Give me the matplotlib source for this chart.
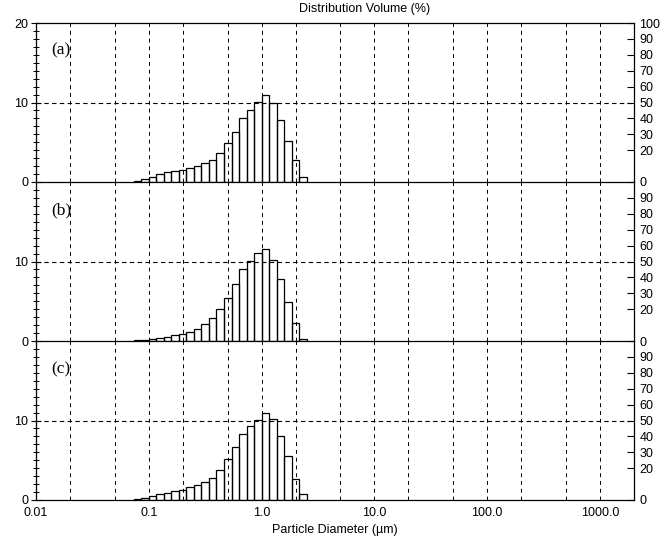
import numpy as np
import matplotlib
matplotlib.use('Agg')
import matplotlib.pyplot as plt
from matplotlib.ticker import FixedLocator, NullFormatter

# size classes: 15 per decade, first edge 10^(-17/15)
bin_k = np.arange(-17, 7)
bin_edges = 10.0 ** (bin_k / 15.0)

vol_a = [0.17, 0.35, 0.6, 0.95, 1.3, 1.43, 1.56, 1.73, 2.03, 2.34, 2.8, 3.7,
         4.9, 6.3, 8.0, 9.1, 10.1, 11.0, 10.0, 7.8, 5.2, 2.8, 0.6]
vol_b = [0.08, 0.15, 0.26, 0.4, 0.5, 0.7, 0.9, 1.17, 1.56, 2.1, 2.9, 4.0,
         5.45, 7.2, 9.0, 10.1, 11.1, 11.6, 10.2, 7.8, 4.9, 2.3, 0.26]
vol_c = [0.12, 0.3, 0.5, 0.7, 0.9, 1.1, 1.3, 1.6, 1.9, 2.3, 2.8, 3.8,
         5.1, 6.7, 8.3, 9.3, 10.1, 11.0, 10.2, 8.1, 5.5, 2.6, 0.7]
panel_labels = ['(a)', '(b)', '(c)']

grid_x = [0.02, 0.05, 0.1, 0.2, 0.5, 1, 2, 5, 10, 20, 50, 100, 200, 500, 1000]
xtick_vals = [0.01, 0.1, 1, 10, 100, 1000]
xtick_text = ['0.01', '0.1', '1.0', '10.0', '100.0', '1000.0']

plt.rcParams['font.family'] = ['Liberation Sans', 'DejaVu Sans']
plt.rcParams['font.size'] = 9

fig = plt.figure(figsize=(6.69, 5.40), dpi=100)
left, right = 36 / 669, 634 / 669
top, bottom = 1 - 23 / 540, 1 - 500 / 540
h = (top - bottom) / 3

widths = np.diff(bin_edges)
lefts = bin_edges[:-1]

for i, vals in enumerate([vol_a, vol_b, vol_c]):
    ax = fig.add_axes([left, top - (i + 1) * h, right - left, h])
    ax.set_facecolor('none')
    ax.set_xscale('log')
    ax.set_xlim(0.01, 2000)
    ax.set_ylim(0, 20)

    for gx in grid_x:
        ax.axvline(gx, color='black', lw=0.7, ls=(0, (4, 4)), zorder=3)
    ax.axhline(10, color='black', lw=0.8, ls=(0, (4, 3)), zorder=3)

    ax.bar(lefts, vals, width=widths, align='edge', facecolor='none',
           edgecolor='black', lw=0.9, zorder=2)

    for sp in ax.spines.values():
        sp.set_linewidth(0.9)
        sp.set_zorder(5)
    if i > 0:
        ax.spines['top'].set_visible(False)

    # left axis
    if i == 0:
        ax.set_yticks([0, 10, 20])
    else:
        ax.set_yticks([0, 10])
    ax.yaxis.set_minor_locator(FixedLocator(np.arange(1, 20)))
    ax.tick_params(axis='y', which='major', direction='inout', length=7,
                   width=0.8, labelsize=9, pad=2)
    ax.tick_params(axis='y', which='minor', direction='inout', length=5,
                   width=0.7)

    # x axis
    ax.xaxis.set_minor_formatter(NullFormatter())
    ax.tick_params(axis='x', which='both', length=0)
    if i == 2:
        ax.set_xticks(xtick_vals)
        ax.set_xticklabels(xtick_text)
        ax.tick_params(axis='x', labelsize=9, pad=5)
        ax.set_xlabel('Particle Diameter (\u00b5m)', fontsize=9, labelpad=4)
    else:
        ax.set_xticks([])

    ax.text(0.025, 0.83 if i == 0 else 0.82, panel_labels[i],
            transform=ax.transAxes, fontsize=12.5,
            family='Liberation Serif', ha='left', va='center')

    # right axis: cumulative scale
    ax2 = ax.twinx()
    ax2.set_facecolor('none')
    ax2.set_ylim(0, 100)
    rt = [0, 20, 30, 40, 50, 60, 70, 80, 90]
    if i == 0:
        rt = rt + [100]
    ax2.set_yticks(rt)
    ax2.tick_params(axis='y', direction='in', length=5, width=0.8,
                    labelsize=9, pad=4)
    for sp in ax2.spines.values():
        sp.set_visible(False)

fig.text(365 / 669, 1 - 9 / 540, 'Distribution Volume (%)', ha='center',
         va='center', fontsize=9)

fig.savefig('out.png', dpi=100)
